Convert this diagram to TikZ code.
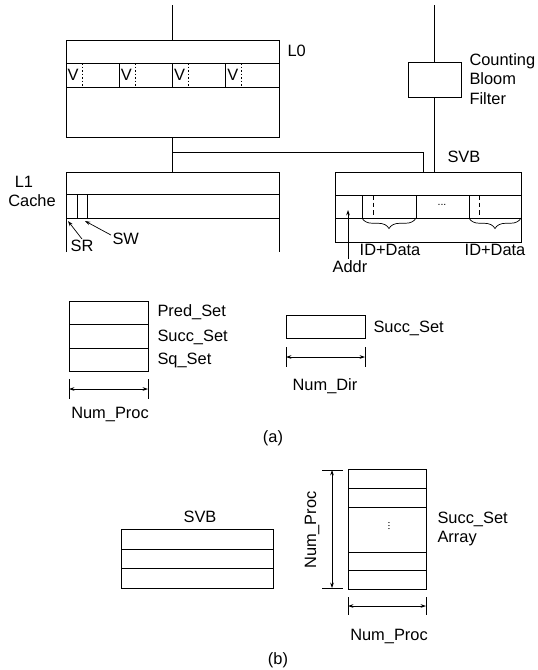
\documentclass[tikz,border=0pt]{standalone}
\usepackage{fontspec}
\setmainfont{Liberation Sans}
\usetikzlibrary{arrows.meta,fit,decorations.pathreplacing}

\tikzset{
  box/.style={draw, inner sep=0pt},
  lbl/.style={inner sep=1pt, font=\fontsize{14}{16.5}\selectfont},
  arr/.style={-{Stealth[length=4.5pt,width=3pt]}},
  dimarr/.style={{Stealth[length=4.5pt,width=3pt]}-{Stealth[length=4.5pt,width=3pt]}},
  dotsep/.style={dash pattern=on 1.5pt off 1.5pt},
  dashsep/.style={dash pattern=on 4pt off 2.5pt},
  brc/.style={decorate, decoration={brace, amplitude=9pt}},
}

\begin{document}
\begin{tikzpicture}[x=0.03cm,y=-0.03cm,line width=0.6pt,every node/.style={lbl}]
\useasboundingbox (0,0) rectangle (538,670);

% (a) L0 and L1
\coordinate (topL) at (172.5,5);
\node[box, fit={(66,40) (279,137)}] (l0) {};
\draw (topL) -- (l0.north);
\draw (66,63) -- (279,63);
\draw (66,87) -- (279,87);
\foreach \xl in {66,119.25,172.5,225.75} {
  \node[anchor=west] at (\xl,75) {V};
  \draw[dotsep] (\xl+16,63) -- (\xl+16,87);
}
\foreach \xl in {119.25,172.5,225.75}
  \draw (\xl,63) -- (\xl,87);
\node[anchor=west] (l0lbl) at (286,51) {L0};

\coordinate (l1top) at (172.5,172);
\coordinate (br) at (172.5,152.5);
\draw (l0.south) -- (l1top);
\draw (66,252) -- (66,172) -- (279,172) -- (279,252);
\draw (66,194) -- (279,194);
\draw (66,218) -- (279,218);
\draw (77,194) -- (77,218);
\draw (87,194) -- (87,218);
\node (l1a) at (24,182) {L1};
\node (l1b) at (32,201) {Cache};
\node[anchor=north] (sr) at (82,239) {SR};
\node[anchor=west] (sw) at (111,239) {SW};
\coordinate (srpt) at (68,221);
\coordinate (swpt) at (85,221);
\draw[arr] (sr.north) -- (srpt);
\draw[arr] (sw.165) -- (swpt);

% (a) bloom filter and SVB
\coordinate (topR) at (434.5,5);
\node[box, fit={(408,62) (461,97)}] (cbf) {};
\node[anchor=west, align=left] (cbflbl) at (468,79) {Counting\\Bloom\\Filter};
\node[box, fit={(335,172) (521,242)}] (svb) {};
\node[anchor=west] (svblbl) at (446,157) {SVB};
\draw (topR) -- (cbf.north);
\draw (cbf.south) -- (cbf.south |- svb.north);
\coordinate (svbin) at (423,172);
\draw (br) -| (svbin);
\draw (335,195) -- (521,195);
\draw (335,218) -- (521,218);
\foreach \xs in {362,416,469}
  \draw (\xs,195) -- (\xs,218);
\foreach \xs in {373,479}
  \draw[dashsep] (\xs,195) -- (\xs,218);
\node[font=\small] (dots) at (442,205) {...};
\draw[brc] (416,218) -- (362,218);
\draw[brc] (521,218) -- (469,218);
\node (id1) at (390,250) {ID+Data};
\node (id2) at (495,250) {ID+Data};
\node[anchor=north] (addr) at (350,259) {Addr};
\coordinate (addrpt) at (348,210);
\draw[arr] (addr.north -| addrpt) -- (addrpt);

% (a) set boxes
\node[box, fit={(69,301) (148,371)}] (sets) {};
\draw (69,324) -- (148,324);
\draw (69,348) -- (148,348);
\node[anchor=west] (pred) at (156,312) {Pred\_Set};
\node[anchor=west] (succ) at (156,337) {Succ\_Set};
\node[anchor=west] (sq) at (156,360) {Sq\_Set};
\draw (69,379) -- (69,399);
\draw (148,379) -- (148,399);
\draw[dimarr] (69,389) -- (148,389);
\node (np1) at (110,414) {Num\_Proc};

\node[box, fit={(286,315) (365,338)}] (dir) {};
\node[anchor=west] (succd) at (372,328) {Succ\_Set};
\draw (286,347) -- (286,367);
\draw (365,347) -- (365,367);
\draw[dimarr] (286,357) -- (365,357);
\node (nd) at (325,386) {Num\_Dir};

\node (capa) at (273,438) {(a)};

% (b)
\node (svbb) at (200,517) {SVB};
\node[box, fit={(121,529) (273,588)}] (svbbox) {};
\draw (121,549) -- (273,549);
\draw (121,568) -- (273,568);

\node[box, fit={(348,469) (426,589)}] (arr) {};
\foreach \yr in {488,507,552,570}
  \draw (348,\yr) -- (426,\yr);
\node[font=\small, rotate=90] (vd) at (389,526) {...};
\node[anchor=west, align=left] (sarr) at (436,529) {Succ\_Set\\Array};
\draw (322,470) -- (343,470);
\draw (322,588) -- (343,588);
\draw[dimarr] (332,470) -- (332,588);
\node[rotate=90] (np2) at (312,530) {Num\_Proc};
\draw (348,597) -- (348,615);
\draw (426,597) -- (426,615);
\draw[dimarr] (348,606) -- (426,606);
\node (np3) at (389,636) {Num\_Proc};

\node (capb) at (278,660) {(b)};
\end{tikzpicture}
\end{document}
